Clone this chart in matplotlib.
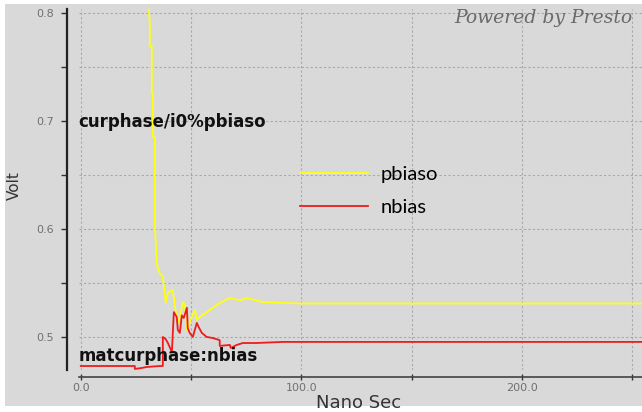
import matplotlib
matplotlib.use('Agg')
import matplotlib.pyplot as plt
from matplotlib.patches import Rectangle
from matplotlib.ticker import MultipleLocator, FixedLocator
import numpy as np

############################################
#   Waveform samples (ns, V)
############################################
t_pbiaso = [30.5, 30.8, 31.3, 31.3, 32.2, 32.2, 32.7, 32.7, 33.6, 33.6, 34.5, 35.8,
            37.2, 38.5, 39.5, 41.7, 43.1, 44.4, 46.3, 47.2, 48.1, 50.3, 51.7, 52.6,
            54.0, 57.1, 59.9, 63.0, 67.6, 72.1, 75.3, 82.5, 91.6, 100.0, 255.0]
v_pbiaso = [0.820, 0.805, 0.790, 0.769, 0.769, 0.726, 0.726, 0.685, 0.685, 0.604, 0.567, 0.559,
            0.556, 0.532, 0.541, 0.5435, 0.523, 0.513, 0.532, 0.530, 0.5065, 0.5185, 0.525, 0.516,
            0.5185, 0.523, 0.527, 0.5315, 0.536, 0.534, 0.536, 0.5324, 0.5315, 0.531, 0.531]

t_nbias = [0.0, 24.5, 24.5, 27.7, 29.9, 35.8, 37.2, 37.2, 38.5, 39.5, 41.3, 42.2,
           43.5, 44.0, 44.9, 45.8, 46.7, 48.1, 48.5, 49.4, 50.8, 52.6, 53.5, 54.9,
           57.1, 59.9, 63.0, 63.0, 67.6, 68.0, 70.7, 73.5, 79.8, 91.6, 255.0]
v_nbias = [0.4731, 0.4731, 0.4704, 0.4713, 0.4722, 0.4731, 0.4731, 0.500, 0.498, 0.4944, 0.486, 0.523,
           0.5185, 0.5065, 0.5037, 0.520, 0.5176, 0.527, 0.508, 0.5037, 0.500, 0.513, 0.509, 0.5037,
           0.500, 0.499, 0.497, 0.4917, 0.4926, 0.4898, 0.4926, 0.4944, 0.4944, 0.4954, 0.4954]

x_major = [0, 100, 200]
x_labels = ['0.0', '100.0', '200.0']
y_major = [0.5, 0.6, 0.7, 0.8]
y_labels = ['0.5', '0.6', '0.7', '0.8']

############################################
#   Figure setup
############################################
BG = '#d9d9d9'
fig = plt.figure(figsize=(6.42, 4.12), dpi=100, facecolor='white')
fig.patches.append(Rectangle((5 / 642, 1 - 406 / 412), 637 / 642, 402 / 412,
                             transform=fig.transFigure, facecolor=BG,
                             edgecolor='none', zorder=-10))

ax = fig.add_axes([78.6 / 642, 42 / 412, 563.4 / 642, 361 / 412])
ax.set_facecolor(BG)
ax.set_xlim(-1, 254.5)
ax.set_ylim(0.4694, 0.8037)

for side in ['top', 'right']:
    ax.spines[side].set_visible(False)
ax.spines['left'].set_position(('outward', 8))
ax.spines['left'].set_linewidth(1.6)
ax.spines['left'].set_color('#222222')
ax.spines['bottom'].set_position(('outward', 5))
ax.spines['bottom'].set_linewidth(1.2)
ax.spines['bottom'].set_color('#444444')

ax.xaxis.set_major_locator(FixedLocator(x_major))
ax.set_xticklabels(x_labels)
ax.xaxis.set_minor_locator(MultipleLocator(50))
ax.yaxis.set_major_locator(FixedLocator(y_major))
ax.set_yticklabels(y_labels)
ax.yaxis.set_minor_locator(MultipleLocator(0.05))

ax.tick_params(axis='both', which='both', labelsize=8, labelcolor='#707070', color='#333333')
ax.tick_params(axis='y', which='both', direction='out', length=4, width=1, pad=6)
ax.tick_params(axis='x', which='both', direction='inout', length=5, width=1, pad=2)

ax.grid(True, which='both', color='#a8a8a8', linestyle=(0, (2, 2)), linewidth=0.8)
ax.set_axisbelow(True)

############################################
#   Traces
############################################
ax.plot(t_pbiaso, v_pbiaso, color='#ffff14', lw=1.3, label='pbiaso', zorder=3)
ax.plot(t_nbias, v_nbias, color='#ee1c1c', lw=1.3, label='nbias', zorder=4)

ax.text(-1, 0.699, 'curphase/i0%pbiaso', fontsize=12, fontweight='bold',
        color='#111111', va='center', ha='left', zorder=5)
ax.text(-1, 0.4824, 'matcurphase:nbias', fontsize=12, fontweight='bold',
        color='#111111', va='center', ha='left', zorder=5)

ax.legend(loc='center left', bbox_to_anchor=(0.393, 0.496), frameon=False,
          prop={'family': 'Lato', 'size': 14.5}, handlelength=3.4,
          handletextpad=0.62, labelspacing=0.78, borderpad=0, borderaxespad=0)

fig.text(632 / 642, 1 - 18 / 412, 'Powered by Presto', family='DejaVu Serif',
         style='italic', fontsize=13.5, color='#6a6a6a', ha='right', va='center')
fig.text(14 / 642, 1 - 186 / 412, 'Volt', rotation=90, fontsize=11,
         color='#333333', ha='center', va='center')
fig.text(359 / 642, 1 - 403 / 412, 'Nano Sec', fontsize=13,
         color='#333333', ha='center', va='center')

fig.savefig('out.png', dpi=100, facecolor=fig.get_facecolor())
